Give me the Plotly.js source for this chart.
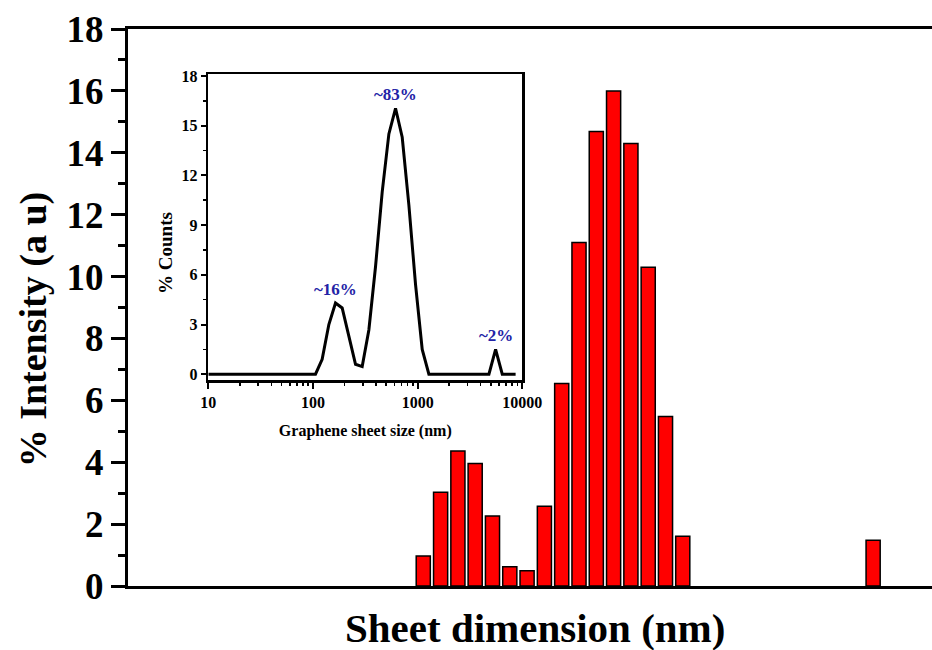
<!DOCTYPE html>
<html>
<head>
<meta charset="utf-8">
<script src="https://cdn.plot.ly/plotly-3.0.1.min.js"></script>
<style>html,body{margin:0;padding:0;background:#fff;}#chart{width:932px;height:650px;}</style>
</head>
<body>
<div id="chart"></div>
<script>
// Size bins (nm) of the histogram
const binSizes = [122.4, 141.8, 164.2, 190.1, 220.2, 255.0, 295.3, 342.0, 396.1, 458.7, 531.2, 615.1, 712.4, 825.0, 955.4, 1106, 5560];
// % Intensity of each bin (main bar chart)
const intensity = [0.97, 3.03, 4.36, 3.96, 2.26, 0.62, 0.49, 2.58, 6.54, 11.1, 14.69, 16.0, 14.3, 10.3, 5.48, 1.61, 1.48];

// Inset line: graphene sheet size (nm) vs % counts
const insetSizes = [10, 105.7, 122.4, 141.8, 164.2, 190.1, 220.2, 255.0, 295.3, 342.0, 396.1, 458.7, 531.2, 615.1, 712.4, 825.0, 955.4, 1106, 1281, 4801, 5560, 6439, 8635];
const insetCounts = [0, 0, 0.9, 3.0, 4.3, 4.0, 2.3, 0.6, 0.46, 2.67, 6.5, 11.0, 14.5, 16.05, 14.3, 10.2, 5.4, 1.5, 0, 0, 1.5, 0, 0];

// Peak labels of the inset
const peakLabels = ['~16%', '~83%', '~2%'];
const peakSizes = [164.2, 615.1, 5560];
const peakCounts = [4.3, 16.05, 1.5];

const insetTickVals = [10, 100, 1000, 10000];
const insetTickText = ['10', '100', '1000', '10000'];

const serif = 'Liberation Serif, Times New Roman, serif';
const binWidthLog = 0.052;

const bars = {
  type: 'bar',
  x: binSizes.map(s => Math.log10(s)),
  y: intensity,
  width: binWidthLog,
  marker: {color: '#ff0000', line: {color: '#000', width: 1.5}},
  xaxis: 'x', yaxis: 'y',
  hoverinfo: 'skip'
};

const insetLine = {
  type: 'scatter', mode: 'lines',
  x: insetSizes, y: insetCounts,
  line: {color: '#000', width: 3},
  xaxis: 'x2', yaxis: 'y2',
  hoverinfo: 'skip'
};

const minorLog = [];
for (let d = 10; d < 10000; d *= 10) for (let k = 2; k <= 9; k++) minorLog.push(d * k);

const annotations = peakLabels.map((t, i) => ({
  xref: 'x2', yref: 'y2',
  x: Math.log10(peakSizes[i]), y: peakCounts[i],
  text: t, showarrow: false, yanchor: 'bottom', yshift: 2,
  font: {family: serif, size: 17, color: '#2323a6', weight: 'bold'}
}));

// axis titles placed as text where the original has them
annotations.push({
  xref: 'paper', yref: 'paper', x: -0.118, y: 0.461,
  xanchor: 'center', yanchor: 'middle', textangle: -90,
  text: '% Intensity (a u)', showarrow: false,
  font: {family: serif, size: 38, color: '#000', weight: 'bold'}
});
annotations.push({
  xref: 'paper', yref: 'paper', x: 0.506, y: -0.0754,
  xanchor: 'center', yanchor: 'middle',
  text: 'Sheet dimension (nm)', showarrow: false,
  font: {family: serif, size: 41, color: '#000', weight: 'bold'}
});
annotations.push({
  xref: 'paper', yref: 'paper', x: 0.0473, y: 0.598,
  xanchor: 'center', yanchor: 'middle', textangle: -90,
  text: '% Counts', showarrow: false,
  font: {family: serif, size: 19, color: '#000', weight: 'bold'}
});

const layout = {
  width: 932, height: 650,
  margin: {l: 128, r: 0, t: 29, b: 64},
  paper_bgcolor: '#fff', plot_bgcolor: '#fff',
  font: {family: serif, color: '#000'},
  showlegend: false,
  bargap: 0,
  xaxis: {
    range: [1, 3.962], showticklabels: false, ticks: '',
    showline: true, linewidth: 3, linecolor: '#000', mirror: true,
    showgrid: false, zeroline: false
  },
  yaxis: {
    range: [0, 18], dtick: 2, tick0: 0,
    ticks: 'outside', ticklen: 14, tickwidth: 3, tickcolor: '#000',
    minor: {dtick: 1, ticks: 'outside', ticklen: 7, tickwidth: 3, tickcolor: '#000'},
    showline: true, linewidth: 3, linecolor: '#000',
    showgrid: false, zeroline: false,
    tickfont: {family: serif, size: 37, weight: 'bold'}
  },
  xaxis2: {
    type: 'log', range: [1, 4], domain: [0.0999, 0.4904], anchor: 'y2',
    tickmode: 'array', tickvals: insetTickVals, ticktext: insetTickText,
    ticks: 'outside', ticklen: 6, tickwidth: 2, tickcolor: '#000',
    minor: {tickmode: 'array', tickvals: minorLog, ticks: 'outside', ticklen: 3, tickwidth: 1.5, tickcolor: '#000'},
    showline: true, linewidth: 2.5, linecolor: '#000', mirror: true,
    showgrid: false, zeroline: false,
    tickfont: {family: serif, size: 16, weight: 'bold'},
    title: {text: 'Graphene sheet size (nm)', font: {family: serif, size: 16, weight: 'bold'}, standoff: 15}
  },
  yaxis2: {
    range: [-0.35, 18.1], domain: [0.3698, 0.9187], anchor: 'x2',
    dtick: 3, tick0: 0,
    ticks: 'outside', ticklen: 5, tickwidth: 2, tickcolor: '#000',
    minor: {dtick: 1.5, ticks: 'outside', ticklen: 3, tickwidth: 1.5, tickcolor: '#000'},
    showline: true, linewidth: 2.5, linecolor: '#000', mirror: true,
    showgrid: false, zeroline: false,
    tickfont: {family: serif, size: 16, weight: 'bold'}
  },
  annotations: annotations
};

Plotly.newPlot('chart', [bars, insetLine], layout, {staticPlot: true, displayModeBar: false});
</script>
</body>
</html>
